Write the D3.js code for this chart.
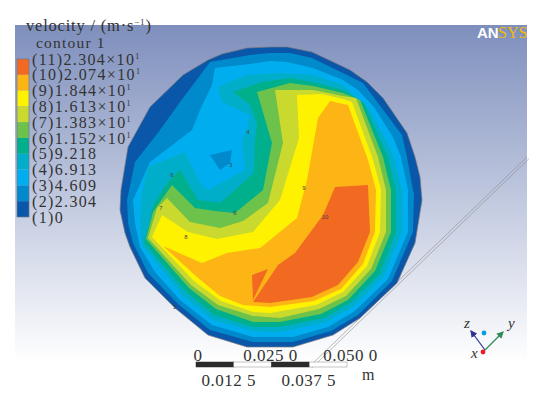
<!DOCTYPE html>
<html>
<head>
<meta charset="utf-8">
<style>
  html, body { margin: 0; padding: 0; background: #fff; }
  svg { display: block; }
  text { font-family: 'Liberation Serif', serif; fill: #333; }
</style>
<script src="https://cdn.jsdelivr.net/npm/d3@7"></script>
</head>
<body>
<div class="canvas"></div>
<script>
/*---------------------------
  DATA
---------------------------*/
// legend, top row first
const legendIds = ['(11)', '(10)', '(9)', '(8)', '(7)', '(6)', '(5)', '(4)', '(3)', '(2)', '(1)'];
const legendValues = ['2.304', '2.074', '1.844', '1.613', '1.383', '1.152', '9.218', '6.913', '4.609', '2.304', '0'];
const legendPower = [true, true, true, true, true, true, false, false, false, false, false];

// one colour per band between two levels, lowest first
const bandColors = ['#0a56a8', '#0089cb', '#00aeef', '#00aec9', '#00b08c', '#6cc24a',
  '#c9d92e', '#fff200', '#fdb515', '#f26a21'];

// contour outlines, disc coordinates (radius = 150 = 0.05 m)
const contour1 = [[0, 150], [16, 150], [41, 145], [79, 127], [96, 115], [112, 99], [136, 64], [144, 40],
  [149, 20], [151, -3], [144, -46], [126, -86], [89, -121], [62, -138], [22, -150], [-24, -150],
  [-63, -138], [-96, -111], [-126, -81], [-141, -50], [-146, -36], [-151, -13], [-150, 7], [-143, 50],
  [-121, 90], [-88, 122], [-63, 137], [-49, 143], [-24, 149]];
const contour2 = [[-1, 144], [19, 144], [41, 139], [72, 124], [92, 114], [107, 94], [131, 62], [136, 40],
  [143, 2], [142, -35], [121, -84], [87, -118], [60, -134], [22, -145], [-18, -145], [-61, -133],
  [-93, -107], [-123, -76], [-138, -46], [-143, -26], [-144, -3], [-136, 35], [-111, 67], [-91, 95],
  [-61, 135], [-21, 142]];
const contour3 = [[-1, 136], [16, 135], [42, 129], [72, 117], [87, 107], [103, 90], [122, 60], [130, 40],
  [137, 7], [137, -35], [117, -82], [84, -114], [57, -130], [22, -140], [-18, -140], [-59, -128],
  [-91, -103], [-116, -75], [-131, -50], [-136, -26], [-138, -3], [-121, 35], [-79, 67], [-71, 87],
  [-59, 112], [-56, 129], [-21, 133]];
const contour4 = [[9, 124], [42, 122], [72, 112], [98, 88], [115, 57], [123, 40], [131, 7], [131, -35],
  [113, -79], [82, -110], [55, -125], [9, -135], [-18, -134], [-58, -123], [-88, -99], [-129, -48],
  [-131, -23], [-129, 4], [-123, 30], [-86, 45], [-71, 14], [-63, 7], [-26, 27], [-29, 57], [-24, 65],
  [-21, 82], [-49, 95], [-53, 110], [-24, 122]];
const contour5 = [[19, 119], [42, 115], [72, 107], [93, 94], [117, 40], [125, 7], [125, -35], [109, -77],
  [79, -106], [53, -121], [9, -130], [-18, -130], [-57, -118], [-85, -95], [-127, -46], [-121, -23],
  [-118, -8], [-103, 15], [-91, 27], [-73, -3], [-51, -6], [-17, 24], [-16, 57], [-14, 74], [-21, 92],
  [-38, 105], [-9, 115]];
const contour6 = [[19, 114], [42, 111], [72, 104], [89, 97], [112, 40], [120, 7], [120, -35], [104, -74],
  [77, -103], [50, -117], [9, -125], [-18, -125], [-55, -112], [-82, -91], [-125, -42], [-118, -15],
  [-99, 12], [-76, -11], [-56, -14], [-36, -16], [-8, 7], [1, 54], [-14, 105]];
const contour7 = [[4, 107], [42, 107], [72, 101], [85, 99], [107, 40], [115, 7], [115, -35], [100, -72],
  [75, -99], [48, -112], [9, -121], [-18, -119], [-53, -108], [-80, -88], [-123, -41], [-114, -11],
  [-104, -1], [-81, -25], [-51, -31], [-28, -24], [-3, -6], [12, 54]];
const contour8 = [[26, 102], [51, 103], [72, 98], [81, 95], [102, 37], [110, 7], [109, -35], [96, -69],
  [72, -95], [45, -108], [-1, -116], [-18, -115], [-50, -104], [-77, -84], [-119, -40], [-109, -18],
  [-83, -35], [-54, -42], [-18, -35], [9, -3], [28, 59]];
const contour9 = [[59, 96], [77, 92], [97, 37], [105, 7], [104, -35], [92, -67], [70, -92], [43, -104],
  [-1, -110], [-28, -108], [-51, -99], [-74, -80], [-108, -49], [-69, -66], [-44, -56], [-11, -51],
  [-1, -43], [26, -21], [36, 17], [47, 79]];
const contour10 = [[64, 10], [97, 12], [99, -35], [87, -65], [67, -88], [41, -100], [-1, -106], [-18, -105],
  [7, -68], [24, -56], [52, -18]];
const contour10b = [[-19, -78], [-3, -72], [-18, -103]];
const lowIsland = [[-61, 42], [-39, 47], [-41, 34], [-51, 27]];

const contourBands = [contour1, contour2, contour3, contour4, contour5, contour6, contour7, contour8,
  contour9, contour10];

// small line numbers sitting on the contours
const lineLabels = ['4', '3', '6', '7', '8', '6', '9', '10', '2'];
const lineLabelSpots = [[-23, 65], [-40, 32], [-99, 22], [-110, -11], [-85, -40], [-36, -16], [33, 9],
  [54, -20], [-96, -110]];

// the thin slanted line behind the disc
const slantLine = [[256, 40], [39, -169]];

// scale bar, metres
const barTicks = [0, 0.0125, 0.025, 0.0375, 0.05];
const barUpper = [[0, '0'], [0.025, '0.025 0'], [0.05, '0.050 0']];
const barLower = [[0.0125, '0.012 5'], [0.0375, '0.037 5']];

/*---------------------------
  VARIABLES
---------------------------*/
const dims = { width: 543, height: 395 };
const panel = { x: 15, y: 25, width: 512, height: 337 };

const svg = d3.select('.canvas')
  .append('svg')
  .attr('width', dims.width)
  .attr('height', dims.height);

const x = d3.scaleLinear().domain([-150, 150]).range([121, 421]);
const y = d3.scaleLinear().domain([-150, 150]).range([347, 47]);
const barX = d3.scaleLinear().domain([0, 0.05]).range([196, 347]);
const legendY = d3.scaleLinear().domain([0, legendValues.length - 1]).range([59, 217]);

const outline = d3.line().x(d => x(d[0])).y(d => y(d[1])).curve(d3.curveLinearClosed);

// background panel
const grad = svg.append('defs').append('linearGradient')
  .attr('id', 'bg')
  .attr('x1', 0).attr('x2', 0)
  .attr('y1', 0).attr('y2', 1);
grad.append('stop').attr('offset', 0).attr('stop-color', '#7e8fbd');
grad.append('stop').attr('offset', 1).attr('stop-color', '#ffffff');

svg.append('rect')
  .attr('x', panel.x).attr('y', panel.y)
  .attr('width', panel.width).attr('height', panel.height)
  .attr('fill', 'url(#bg)');

// slanted double line
[0, 1.8].forEach((off) => {
  svg.append('line')
    .attr('x1', x(slantLine[0][0]) + off).attr('y1', y(slantLine[0][1]) + off)
    .attr('x2', x(slantLine[1][0]) + off).attr('y2', y(slantLine[1][1]) + off)
    .attr('stroke', '#8d8d8d')
    .attr('stroke-width', 0.6);
});

/*---------------------------
  DISC
---------------------------*/
const disc = svg.append('g');

disc.selectAll('path.band')
  .data(contourBands)
  .enter()
  .append('path')
  .attr('class', 'band')
  .attr('d', outline)
  .attr('fill', (d, i) => bandColors[i]);

disc.append('path').attr('d', outline(contour10b)).attr('fill', bandColors[9]);
disc.append('path').attr('d', outline(lowIsland)).attr('fill', bandColors[1]);

disc.append('path')
  .attr('d', outline(contour1))
  .attr('fill', 'none')
  .attr('stroke', '#77797f')
  .attr('stroke-width', 0.7);

disc.selectAll('text')
  .data(lineLabels)
  .enter()
  .append('text')
  .attr('x', (d, i) => x(lineLabelSpots[i][0]))
  .attr('y', (d, i) => y(lineLabelSpots[i][1]) + 2)
  .attr('text-anchor', 'middle')
  .style('font-family', 'Liberation Sans, sans-serif')
  .style('font-size', '6px')
  .style('fill', '#444')
  .text(d => d);

/*---------------------------
  LEGEND
---------------------------*/
svg.append('text')
  .attr('x', 26).attr('y', 31)
  .style('font-size', '16.5px')
  .style('letter-spacing', '0.8px')
  .html('velocity / (m·s<tspan dy="-6" font-size="9">−1</tspan><tspan dy="6">)</tspan>');

svg.append('text')
  .attr('x', 36).attr('y', 48)
  .style('font-size', '15.5px')
  .style('letter-spacing', '1.2px')
  .text('contour 1');

const swatches = bandColors.slice().reverse();
svg.selectAll('rect.swatch')
  .data(swatches)
  .enter()
  .append('rect')
  .attr('class', 'swatch')
  .attr('x', 17)
  .attr('y', (d, i) => legendY(i))
  .attr('width', 12)
  .attr('height', legendY(1) - legendY(0))
  .attr('fill', d => d);

svg.append('rect')
  .attr('x', 17).attr('y', legendY(0))
  .attr('width', 12).attr('height', legendY(10) - legendY(0))
  .attr('fill', 'none')
  .attr('stroke', '#6d7690')
  .attr('stroke-width', 0.7);

const legendText = svg.selectAll('text.legend')
  .data(legendValues)
  .enter()
  .append('text')
  .attr('class', 'legend')
  .attr('x', 32)
  .attr('y', (d, i) => legendY(i) + 5.5)
  .style('font-size', '16px')
  .style('letter-spacing', '1.35px')
  .text((d, i) => `${legendIds[i]}${d}${legendPower[i] ? '×10' : ''}`);

legendText.filter((d, i) => legendPower[i])
  .append('tspan')
  .attr('dy', -6)
  .style('font-size', '8px')
  .text('1');

/*---------------------------
  SCALE BAR
---------------------------*/
const barSegments = d3.pairs(barTicks);
svg.selectAll('rect.bar')
  .data(barSegments)
  .enter()
  .append('rect')
  .attr('class', 'bar')
  .attr('x', d => barX(d[0]))
  .attr('y', 362)
  .attr('width', d => barX(d[1]) - barX(d[0]))
  .attr('height', 5)
  .attr('fill', (d, i) => (i % 2 === 0 ? '#2b2b2b' : '#fff'))
  .attr('stroke', (d, i) => (i % 2 === 0 ? '#2b2b2b' : '#888'))
  .attr('stroke-width', 0.5);

// the labels do not sit exactly over their ticks
const upperDx = [2, -1, 3.5];
const lowerDx = [-5, -0.5];

svg.selectAll('text.upper')
  .data(barUpper)
  .enter()
  .append('text')
  .attr('class', 'upper')
  .attr('x', (d, i) => barX(d[0]) + upperDx[i])
  .attr('y', 361)
  .attr('text-anchor', 'middle')
  .style('font-size', '17px')
  .style('letter-spacing', '0.5px')
  .text(d => d[1]);

svg.selectAll('text.lower')
  .data(barLower)
  .enter()
  .append('text')
  .attr('class', 'lower')
  .attr('x', (d, i) => barX(d[0]) + lowerDx[i])
  .attr('y', 386)
  .attr('text-anchor', 'middle')
  .style('font-size', '17px')
  .style('letter-spacing', '0.5px')
  .text(d => d[1]);

svg.append('text')
  .attr('x', 362).attr('y', 380)
  .style('font-size', '16px')
  .text('m');

/*---------------------------
  LOGO AND TRIAD
---------------------------*/
svg.append('text')
  .attr('x', 477).attr('y', 38)
  .style('font-family', 'Liberation Sans, sans-serif')
  .style('font-weight', 'bold')
  .style('font-size', '15px')
  .style('fill', '#fff')
  .text('AN');

svg.append('text')
  .attr('x', 498).attr('y', 38)
  .style('font-size', '16px')
  .style('fill', '#f0b90b')
  .text('SYS');

const marker = (id, color) => {
  svg.select('defs').append('marker')
    .attr('id', id)
    .attr('viewBox', '0 0 6 6')
    .attr('refX', 5).attr('refY', 3)
    .attr('markerWidth', 6).attr('markerHeight', 6)
    .attr('orient', 'auto')
    .append('path')
    .attr('d', 'M0,0L6,3L0,6Z')
    .attr('fill', color);
};
marker('zhead', '#2e3192');
marker('yhead', '#2e8b57');

svg.append('line')
  .attr('x1', 485).attr('y1', 350).attr('x2', 471).attr('y2', 331)
  .attr('stroke', '#2e3192').attr('stroke-width', 1.2)
  .attr('marker-end', 'url(#zhead)');
svg.append('line')
  .attr('x1', 485).attr('y1', 350).attr('x2', 503).attr('y2', 332)
  .attr('stroke', '#2e8b57').attr('stroke-width', 1.2)
  .attr('marker-end', 'url(#yhead)');
svg.append('circle').attr('cx', 484).attr('cy', 333).attr('r', 2.4).attr('fill', '#00a0e0');
svg.append('circle').attr('cx', 483).attr('cy', 352).attr('r', 2.4).attr('fill', '#ed1c24');

[['z', 464, 328], ['y', 508, 328], ['x', 471, 358]].forEach((d) => {
  svg.append('text')
    .attr('x', d[1]).attr('y', d[2])
    .style('font-size', '15px')
    .style('font-style', 'italic')
    .text(d[0]);
});
</script>
</body>
</html>
